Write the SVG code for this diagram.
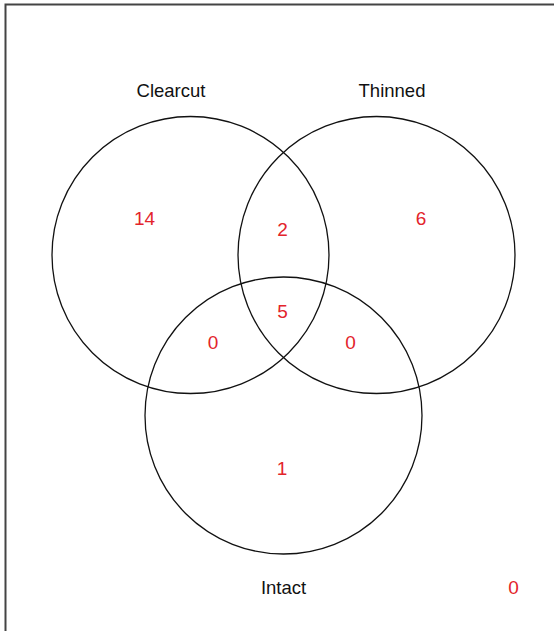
<svg xmlns="http://www.w3.org/2000/svg" width="554" height="631" viewBox="0 0 554 631">
<style>
.set{fill:none;stroke:#111;stroke-width:1.3}
.lbl{font-family:"Liberation Sans",Arial,sans-serif;font-size:18.5px;fill:#111;text-anchor:middle}
.num{font-family:"Liberation Sans",Arial,sans-serif;font-size:19px;fill:#e3242b;text-anchor:middle}
</style>
<rect width="554" height="631" fill="#fff"/>
<path d="M5.5 631 V4.5 H554" fill="none" stroke="#444" stroke-width="2"/>
<g id="clearcut">
<circle class="set" cx="190.5" cy="255" r="138.5"/>
<text class="lbl" x="171" y="97">Clearcut</text>
</g>
<g id="thinned">
<circle class="set" cx="376.5" cy="255" r="138.5"/>
<text class="lbl" x="392" y="97">Thinned</text>
</g>
<g id="intact">
<circle class="set" cx="283.5" cy="415.5" r="138.5"/>
<text class="lbl" x="283.5" y="594">Intact</text>
</g>
<g id="counts">
<text class="num" x="144.5" y="225">14</text>
<text class="num" x="421" y="225">6</text>
<text class="num" x="282.5" y="236">2</text>
<text class="num" x="282.5" y="318">5</text>
<text class="num" x="213" y="349">0</text>
<text class="num" x="350.5" y="349">0</text>
<text class="num" x="282" y="475">1</text>
<text class="num" x="513.5" y="594">0</text>
</g>
<g id="connectors"></g>
</svg>
